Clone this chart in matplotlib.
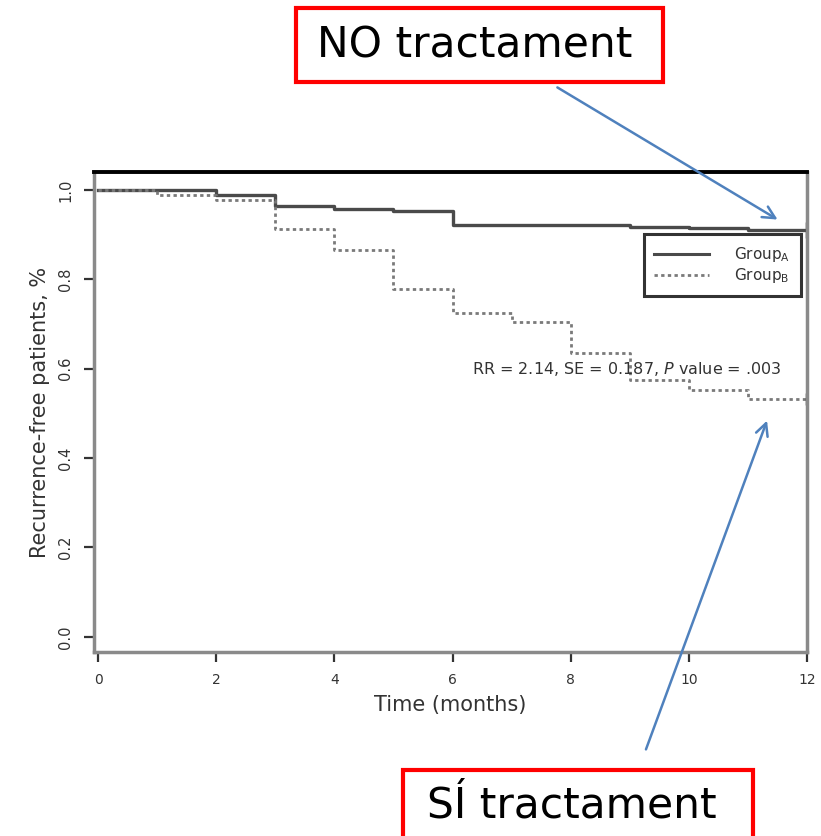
import matplotlib
matplotlib.use("Agg")
import matplotlib.pyplot as plt
from matplotlib.patches import Rectangle, FancyArrowPatch
from matplotlib.lines import Line2D

# Kaplan-Meier style step curves
time_a = [0, 2, 3, 4, 5, 6, 9, 10, 11, 12]
surv_a = [1.0, 0.989, 0.963, 0.957, 0.953, 0.922, 0.918, 0.915, 0.91, 0.91]
time_b = [0, 1, 2, 3, 4, 5, 6, 7, 8, 9, 10, 11, 12]
surv_b = [1.0, 0.989, 0.977, 0.912, 0.865, 0.778, 0.724, 0.704, 0.635, 0.574, 0.552, 0.531, 0.531]

x_ticks = [0, 2, 4, 6, 8, 10, 12]
y_ticks = [0.0, 0.2, 0.4, 0.6, 0.8, 1.0]
labels = ["Group$_\\mathregular{A}$", "Group$_\\mathregular{B}$"]
stats_text = "RR = 2.14, SE = 0.187, $\\it{P}$ value = .003"

W, H = 821, 836
fig = plt.figure(figsize=(W / 100, H / 100), dpi=100)
plt.rcParams['font.family'] = 'DejaVu Sans'

# axes placed in pixels (top-left origin) -> figure fraction
left, right, top, bottom = 94, 807, 172, 652
ax = fig.add_axes([left / W, 1 - bottom / H, (right - left) / W, (bottom - top) / H])

ax.step(time_a, surv_a, where='post', color='#4a4a4a', lw=2.4)
ax.step(time_b, surv_b, where='post', color='#7a7a7a', lw=2.0, linestyle=(0, (1.2, 1.2)))
ax.plot([time_a[-1]], [surv_a[-1]], marker='|', ms=12, mew=2.5, color='#333333')
ax.plot([time_b[-1]], [surv_b[-1]], marker='|', ms=8, mew=2.5, color='#333333')

ax.set_xlim(-0.07, 12.0)
ax.set_ylim(-0.034, 1.04)
ax.set_xticks(x_ticks)
ax.set_xticklabels([str(t) for t in x_ticks], fontsize=10, color='#333333')
ax.set_yticks(y_ticks)
ax.set_yticklabels([f"{v:.1f}" for v in y_ticks], fontsize=10.5, color='#333333',
                   rotation=90, va='center')
ax.tick_params(axis='both', direction='out', length=7, width=1.6, color='#333333', pad=8)

for side in ['left', 'bottom', 'right']:
    ax.spines[side].set_color('#8a8a8a')
    ax.spines[side].set_linewidth(2.5)
ax.spines['top'].set_color('black')
ax.spines['top'].set_linewidth(2.8)

ax.set_xlabel("Time (months)", fontsize=15, color='#333333', labelpad=6)
ax.set_ylabel("Recurrence-free patients, %", fontsize=15, color='#333333', labelpad=6)

handles = [Line2D([0], [0], color='#4a4a4a', lw=2.2),
           Line2D([0], [0], color='#7a7a7a', lw=2.0, linestyle=(0, (1.2, 1.2)))]
leg = ax.legend(handles, labels, loc='upper right', bbox_to_anchor=(0.991, 0.870),
                fontsize=11, frameon=True, fancybox=False, handlelength=3.6,
                handletextpad=1.6, borderpad=0.7, labelspacing=0.15, borderaxespad=0)
leg.get_frame().set_edgecolor('black')
leg.get_frame().set_linewidth(2.2)
for t in leg.get_texts():
    t.set_color('#333333')

ax.text(8.95, 0.6, stats_text, fontsize=11.5, color='#333333', va='center', ha='center')


def fx(px):
    return px / W


def fy(py):
    return 1 - py / H


# red annotation boxes
fig.add_artist(Rectangle((fx(296), fy(82)), fx(663) - fx(296), fy(8) - fy(82),
                         transform=fig.transFigure, fill=False, edgecolor='red', lw=3))
fig.text(fx(475), fy(46), "NO tractament", fontsize=30.5, ha='center', va='center', color='black')

fig.add_artist(Rectangle((fx(403), fy(900)), fx(753) - fx(403), fy(770) - fy(900),
                         transform=fig.transFigure, fill=False, edgecolor='red', lw=3,
                         clip_on=False))
fig.text(fx(572), fy(806), "SÍ tractament", fontsize=30.5, ha='center', va='center', color='black')

# blue arrows
arrow_color = '#4f81bd'
fig.add_artist(FancyArrowPatch((fx(555), fy(86)), (fx(780), fy(221)), transform=fig.transFigure,
                               arrowstyle='->', mutation_scale=22, color=arrow_color, lw=1.8))
fig.add_artist(FancyArrowPatch((fx(645), fy(752)), (fx(768), fy(418)), transform=fig.transFigure,
                               arrowstyle='->', mutation_scale=22, color=arrow_color, lw=1.8))

fig.savefig("out.png", dpi=100)
